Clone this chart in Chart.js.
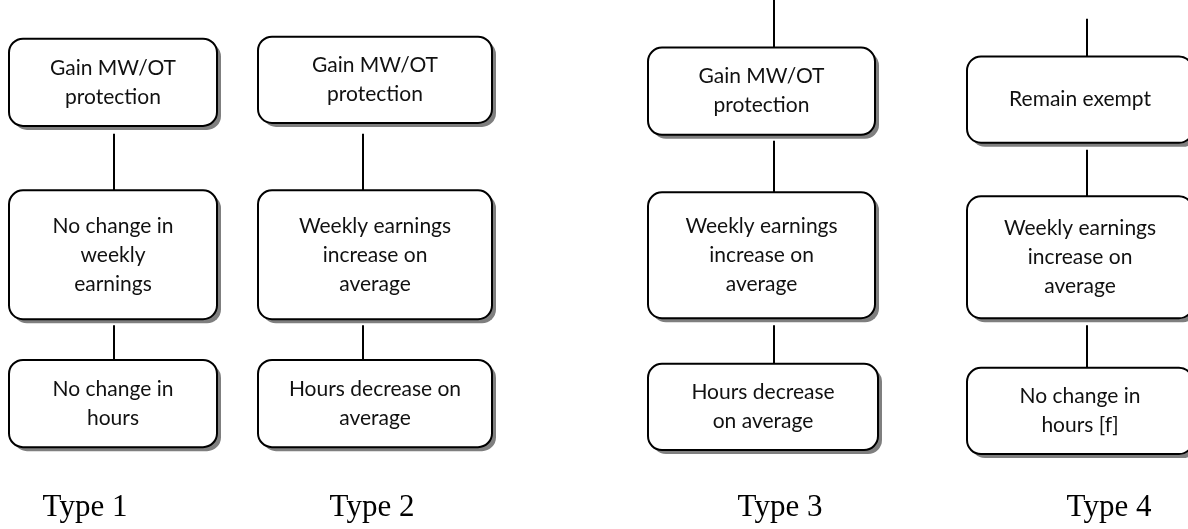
<!DOCTYPE html>
<html>
<head>
<meta charset="utf-8">
<script src="https://cdn.jsdelivr.net/npm/chart.js@4/dist/chart.umd.min.js"></script>
<style>
  body { margin: 0; background: #fff; }
  #wrap { width: 1188px; height: 529px; position: relative; }
</style>
</head>
<body>
<div id="wrap"><canvas id="flowChart"></canvas></div>
<script>
// column labels under each path
const typeLabels = ['Type 1', 'Type 2', 'Type 3', 'Type 4'];

// text inside the boxes, top to bottom, per column
const boxText = [
    [['Gain MW/OT', 'protection'], ['No change in', 'weekly', 'earnings'], ['No change in', 'hours']],
    [['Gain MW/OT', 'protection'], ['Weekly earnings', 'increase on', 'average'], ['Hours decrease on', 'average']],
    [['Gain MW/OT', 'protection'], ['Weekly earnings', 'increase on', 'average'], ['Hours decrease', 'on average']],
    [['Remain exempt'], ['Weekly earnings', 'increase on', 'average'], ['No change in', 'hours [f]']]
];

// layout, in axis units
const typeCenters = [85, 372, 780, 1109];
const boxLeft = [[9, 9, 9], [258, 258, 258], [648, 648, 648], [967, 967, 967]];
const boxRight = [[217, 217, 217], [492, 492, 492], [875, 875, 878], [1193, 1193, 1193]];
const boxTop = [[39, 192, 363], [37, 192, 363], [48, 194, 367], [57, 198, 371]];
const boxBottom = [[127, 322, 451], [124, 322, 451], [136, 321, 454], [144, 321, 458]];
const linkX = [114, 363, 774, 1087];
const linkSpans = [
    [[135, 192], [328, 363]],
    [[135, 192], [328, 363]],
    [[0, 48], [142, 194], [328, 367]],
    [[19, 57], [151, 198], [328, 371]]
];

const lineDatasets = [];
linkSpans.forEach((spans, c) => {
    spans.forEach(s => {
        lineDatasets.push({
            type: 'line',
            data: [{x: linkX[c], y: s[0]}, {x: linkX[c], y: s[1]}],
            borderColor: '#000',
            borderWidth: 2,
            pointRadius: 0,
            showLine: true,
            clip: false
        });
    });
});

function roundRect(ctx, x, y, w, h, r) {
    ctx.beginPath();
    ctx.moveTo(x + r, y);
    ctx.lineTo(x + w - r, y);
    ctx.arcTo(x + w, y, x + w, y + r, r);
    ctx.lineTo(x + w, y + h - r);
    ctx.arcTo(x + w, y + h, x + w - r, y + h, r);
    ctx.lineTo(x + r, y + h);
    ctx.arcTo(x, y + h, x, y + h - r, r);
    ctx.lineTo(x, y + r);
    ctx.arcTo(x, y, x + r, y, r);
    ctx.closePath();
}

const boxPlugin = {
    id: 'boxes',
    afterDatasetsDraw(chart) {
        const ctx = chart.ctx;
        const xs = chart.scales.x, ys = chart.scales.y;
        ctx.save();
        boxText.forEach((col, c) => {
            col.forEach((lines, r) => {
                const x0 = xs.getPixelForValue(boxLeft[c][r]);
                const x1 = xs.getPixelForValue(boxRight[c][r]);
                const y0 = ys.getPixelForValue(boxTop[c][r]);
                const y1 = ys.getPixelForValue(boxBottom[c][r]);
                // shadow
                roundRect(ctx, x0 + 4, y0 + 4, x1 - x0, y1 - y0, 14);
                ctx.fillStyle = '#7f7f7f';
                ctx.fill();
                roundRect(ctx, x0, y0, x1 - x0, y1 - y0, 14);
                ctx.fillStyle = '#fff';
                ctx.fill();
                ctx.lineWidth = 2;
                ctx.strokeStyle = '#000';
                ctx.stroke();

                ctx.fillStyle = '#111';
                ctx.font = '21px Lato';
                ctx.textAlign = 'center';
                ctx.textBaseline = 'middle';
                const cx = (x0 + x1) / 2, cy = (y0 + y1) / 2;
                lines.forEach((t, i) => {
                    ctx.fillText(t, cx, cy + (i - (lines.length - 1) / 2) * 29);
                });
            });
        });
        ctx.restore();
    }
};

const ctx = document.getElementById('flowChart').getContext('2d');
new Chart(ctx, {
    type: 'scatter',
    data: {datasets: lineDatasets},
    options: {
        responsive: true,
        maintainAspectRatio: false,
        animation: false,
        layout: {padding: 0},
        plugins: {legend: {display: false}, tooltip: {enabled: false}},
        scales: {
            x: {
                type: 'linear',
                min: 0,
                max: 1188,
                grid: {display: false, drawTicks: false},
                border: {display: false},
                afterBuildTicks: scale => {
                    scale.ticks = typeCenters.map(v => ({value: v}));
                },
                ticks: {
                    autoSkip: false,
                    maxRotation: 0,
                    padding: 3,
                    color: '#000',
                    font: {family: 'Liberation Serif', size: 31},
                    callback: (v, i) => typeLabels[i]
                }
            },
            y: {
                type: 'linear',
                min: 0,
                max: 490,
                reverse: true,
                display: false
            }
        }
    },
    plugins: [boxPlugin]
});
</script>
</body>
</html>
